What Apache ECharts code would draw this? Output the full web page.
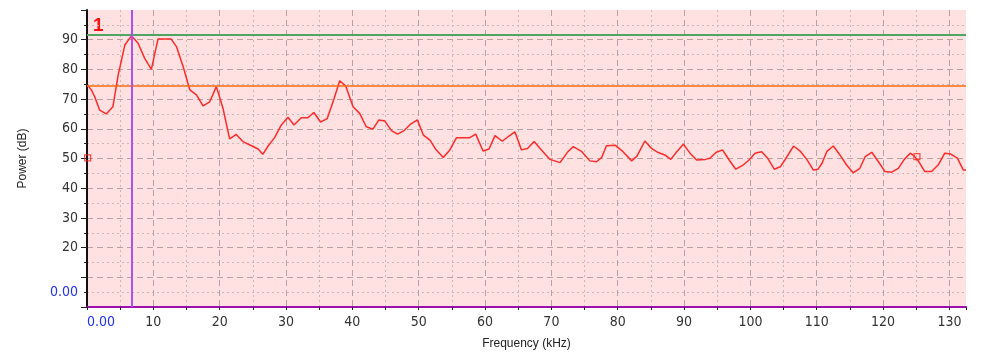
<!DOCTYPE html>
<html>
<head>
<meta charset="utf-8">
<script src="https://cdn.jsdelivr.net/npm/echarts@6/dist/echarts.min.js"></script>
<style>
html,body{margin:0;padding:0;background:#fff;}
#c{width:993px;height:362px;}
</style>
</head>
<body>
<div id="c"></div>
<script>
// Frequency (kHz) and power (dB) of the spectrum trace
const freq = [0.06,0.66,1.16,1.9,2.9,3.9,4.7,5.7,6.7,7.7,8.7,9.7,10.7,12.7,13.5,14.5,15.5,16.5,17.5,18.5,19.5,20.5,21.5,22.5,23.5,24.8,25.8,26.5,27.3,28.3,29.3,30.3,31.2,32.3,33.3,34.2,35.2,36.2,37.2,38.1,39.0,40.1,41.1,42.1,43.1,44.0,44.9,45.9,46.8,47.8,48.8,49.8,50.7,51.7,52.6,53.7,54.7,55.7,57.7,58.6,59.7,60.6,61.5,62.6,63.5,64.5,65.5,66.4,67.4,68.5,69.8,71.3,72.5,73.3,74.6,75.8,76.8,77.6,78.3,79.6,80.8,82.1,82.9,84.1,85.1,86.1,87.1,88.0,88.9,89.9,90.9,91.9,93.2,93.9,94.8,95.8,96.8,97.8,98.9,99.8,100.7,101.7,102.6,103.6,104.5,105.2,106.5,107.5,108.5,109.5,110.2,110.8,111.5,112.5,113.5,114.5,115.5,116.5,117.3,118.3,119.3,120.3,121.3,122.3,123.2,124.1,124.7,125.4,126.3,127.3,128.3,129.3,130.2,131.2,132.1,132.5];
const power = [74.7,73.1,70.8,66.3,65.0,67.4,78.1,88.2,91.3,88.8,83.7,80.0,90.2,90.2,87.6,80.9,73.1,71.4,67.7,69.1,74.2,66.9,56.6,58.1,55.7,54.3,53.2,51.4,54.2,57.1,61.3,63.9,61.3,63.7,63.7,65.5,62.3,63.4,69.9,76.2,74.4,67.4,65.2,60.7,59.9,63.0,62.6,59.4,58.2,59.4,61.6,63.0,57.9,56.2,53.0,50.3,52.9,57.0,57.0,58.2,52.5,53.2,57.7,55.8,57.4,59.0,52.9,53.4,55.7,52.9,49.7,48.6,52.3,54.0,52.3,49.2,48.9,50.4,54.3,54.5,52.3,49.2,50.8,55.9,53.4,52.0,51.2,49.7,52.3,54.8,51.8,49.5,49.7,50.1,52.0,52.9,49.5,46.4,47.8,49.5,51.8,52.3,50.1,46.4,47.2,49.5,54.2,52.5,49.7,46.1,46.4,48.4,52.3,54.2,51.2,47.8,45.2,46.7,50.6,52.1,48.9,45.6,45.4,46.7,49.7,51.8,50.8,48.9,45.6,45.6,47.8,51.8,51.5,50.1,46.1,46.1];
// Marker squares [freq, power]
const markerFreq = [0.1, 125.1];
const markerPower = [50.2, 50.6];
// Reference lines
const greenLevel = 91.5;
const orangeLevel = 74.4;
const cursorFreq = 6.74;
// Axis ranges / labels
const xMin = 0, xMax = 132.5, xStep = 10;
const yMin = 0, yMax = 100, yStep = 10;
const yLabelled = [20,30,40,50,60,70,80,90];
const cursorLabel = '0.00';
const cursorYTick = 5;
const markerText = '1';

const FONT = '"Liberation Sans Narrow", "DejaVu Sans Condensed", "Liberation Sans", Arial, sans-serif';
const chart = echarts.init(document.getElementById('c'), null, {renderer:'canvas'});
const option = {
  animation:false,
  backgroundColor:'#ffffff',
  grid:{left:87, right:27, top:10, bottom:55, show:true, backgroundColor:'#ffe1e1', borderWidth:0},
  xAxis:{
    type:'value', min:xMin, max:xMax, interval:xStep,
    name:'Frequency (kHz)', nameLocation:'middle', nameGap:31,
    nameTextStyle:{fontFamily:'Liberation Sans, Arial, sans-serif', fontSize:12, color:'#222'},
    axisLine:{show:true, onZero:false, lineStyle:{color:'#a010b0', width:2}},
    axisTick:{show:true, length:3, lineStyle:{color:'#222'}},
    minorTick:{show:true, splitNumber:2, length:3, lineStyle:{color:'#222'}},
    splitLine:{show:true, showMinLine:false, showMaxLine:false, lineStyle:{color:'#b9a2a4', type:[6,4], width:1}},
    minorSplitLine:{show:true, lineStyle:{color:'#cdb6b8', type:[2,3], width:1}},
    axisLabel:{
      margin:8, fontFamily:FONT, fontSize:14, color:'#333', showMaxLabel:false, alignMinLabel:'left',
      formatter:function(v){ return v===xMin ? '{b|'+cursorLabel+'}' : String(v); },
      rich:{b:{color:'#2233ee', fontFamily:FONT, fontSize:14}}
    }
  },
  yAxis:[{
    type:'value', min:yMin, max:yMax, interval:yStep,
    name:'Power (dB)', nameLocation:'middle', nameGap:58, nameRotate:90,
    nameTextStyle:{fontFamily:'Liberation Sans, Arial, sans-serif', fontSize:12, color:'#222'},
    axisLine:{show:true, lineStyle:{color:'#111', width:2}},
    axisTick:{show:true, length:6, lineStyle:{color:'#222'}},
    minorTick:{show:true, splitNumber:2, length:3, lineStyle:{color:'#222'}},
    splitLine:{show:true, showMinLine:false, showMaxLine:false, lineStyle:{color:'#b9a2a4', type:[6,4], width:1}},
    minorSplitLine:{show:true, lineStyle:{color:'#cdb6b8', type:[2,3], width:1}},
    axisLabel:{
      margin:9, fontFamily:FONT, fontSize:14, color:'#333',
      formatter:function(v){ return yLabelled.indexOf(v)>=0 ? String(v) : ''; }
    }
  },{
    type:'value', min:yMin, max:yMax, interval:cursorYTick, position:'left',
    axisLine:{show:false}, axisTick:{show:false}, splitLine:{show:false},
    axisLabel:{margin:9, fontFamily:FONT, fontSize:14, color:'#2233ee',
      formatter:function(v){ return v===cursorYTick ? cursorLabel : ''; }}
  }],
  series:[{
    type:'line', name:'power', showSymbol:false, clip:true,
    data: freq.map(function(f,i){ return [f, power[i]]; }),
    lineStyle:{color:'#ff2a2a', width:1.5}, itemStyle:{color:'#ff2a2a'},
    markLine:{
      silent:true, symbol:'none', animation:false, label:{show:false},
      data:[
        {yAxis:greenLevel, lineStyle:{color:'#4fa564', width:2, type:'solid'}},
        {yAxis:orangeLevel, lineStyle:{color:'#ff6a10', width:1.5, type:'solid'}},
        {xAxis:cursorFreq, lineStyle:{color:'#b050f0', width:2, type:'solid'}}
      ]
    }
  },{
    type:'scatter', name:'markers', symbol:'rect', symbolSize:6, clip:true,
    data: markerFreq.map(function(f,i){ return [f, markerPower[i]]; }),
    itemStyle:{color:'rgba(0,0,0,0)', borderColor:'#ff2020', borderWidth:1.2}
  }],
  graphic:[{
    type:'text', left:93, top:16,
    style:{text:markerText, fill:'#ff1010', font:'bold 19px "Liberation Sans", Arial, sans-serif'}
  }]
};
chart.setOption(option);
</script>
</body>
</html>
